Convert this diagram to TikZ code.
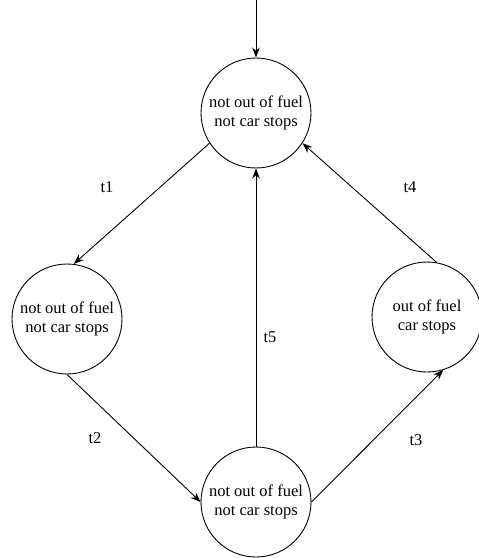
\documentclass[tikz,border=0pt]{standalone}
\usepackage{fontspec}
\setmainfont{Liberation Serif}
\usetikzlibrary{arrows.meta}
\begin{document}
\begin{tikzpicture}[x=1pt,y=-1pt,
  state/.style={circle,draw,line width=0.9pt,minimum size=110pt,inner sep=0pt,
    align=center,font=\fontsize{16.5}{19.5}\selectfont},
  trans/.style={line width=0.9pt,-{Stealth[length=10pt,width=7.5pt]}},
  lbl/.style={font=\fontsize{16.5}{19.5}\selectfont}]
\useasboundingbox (0,0) rectangle (479,558);
\node[state] (s0) at (256,113) {not out of fuel\\not car stops};
\node[state] (s1) at (67,319) {not out of fuel\\not car stops};
\node[state] (s2) at (256,502) {not out of fuel\\not car stops};
\node[state] (s3) at (427,317) {out of fuel\\car stops};
\coordinate (init) at (256,0);
\draw[trans] (init) -- (s0.north);
\draw[trans] (s0.213) -- (s1.83);
\draw[trans] (s1.south) -- (s2.west);
\draw[trans] (s2.east) -- (s3.-73);
\draw[trans] (s3.80) -- (s0.327);
\draw[trans] (s2.north) -- (s0.south);
\node[lbl] (l1) at (107,187) {t1};
\node[lbl] (l2) at (95,438) {t2};
\node[lbl] (l3) at (416,440) {t3};
\node[lbl] (l4) at (410,187) {t4};
\node[lbl] (l5) at (270,337) {t5};
\end{tikzpicture}
\end{document}
